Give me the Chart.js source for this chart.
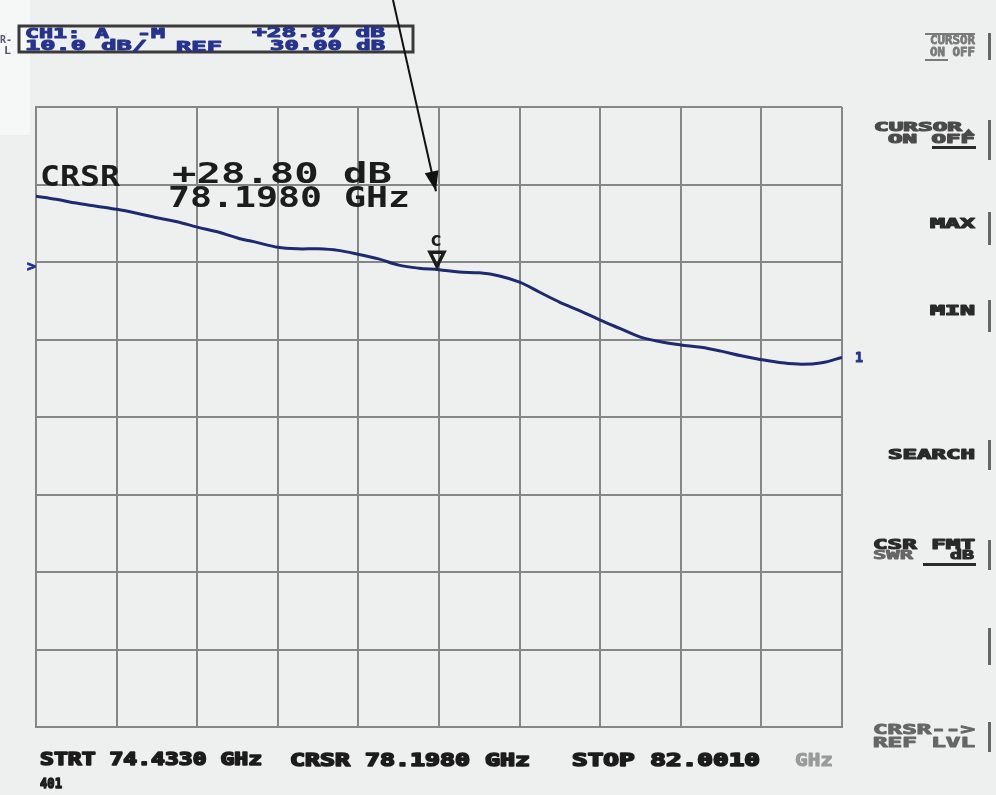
<!DOCTYPE html>
<html>
<head>
<meta charset="utf-8">
<script src="https://cdn.jsdelivr.net/npm/chart.js@4"></script>
<style>
html,body{margin:0;padding:0;background:#eef0ef;}
#c{display:block;}
</style>
</head>
<body>
<canvas id="c" width="996" height="795"></canvas>
<script>
// Frequency points (GHz) along the sweep
const freqGHz = [74.4330,74.6222,74.8114,75.0006,75.1898,75.3790,75.5682,75.7574,75.9466,76.1358,
  76.3250,76.5142,76.7034,76.8926,77.0818,77.2710,77.4602,77.6494,77.8386,78.0278,
  78.2170,78.4062,78.5954,78.7846,78.9738,79.1630,79.3522,79.5414,79.7306,79.9198,
  80.1090,80.2982,80.4874,80.6766,80.8658,81.0550,81.2442,81.4334,81.6226,81.8118,82.0010];
// Measured trace (dB)
const traceDB = [38.5,38.1,37.6,37.2,36.8,36.3,35.7,35.2,34.5,33.9,
  33.1,32.5,31.9,31.7,31.7,31.5,31.0,30.4,29.6,29.2,
  29.0,28.7,28.6,28.2,27.4,26.1,24.8,23.7,22.5,21.4,
  20.3,19.7,19.3,19.0,18.5,17.9,17.4,17.0,16.8,17.0,17.7];
// Cursor
const cursorFreq = [78.1980];
const cursorDB = [28.80];
// Grid divisions
const xGridTicks = [74.4330,75.1898,75.9466,76.7034,77.4602,78.2170,78.9738,79.7306,80.4874,81.2442,82.0010];
const yGridTicks = [-30,-20,-10,0,10,20,30,40,50];
const refLevel = 30;

const MONO = '"DejaVu Sans Mono", "Liberation Mono", monospace';

function drawFit(ctx, text, x, y, w, size, color, weight, stroke){
  ctx.save();
  ctx.font = (weight||'bold') + ' ' + size + 'px ' + MONO;
  ctx.fillStyle = color;
  ctx.strokeStyle = color;
  ctx.textBaseline = 'middle';
  ctx.textAlign = 'left';
  const m = ctx.measureText(text).width;
  ctx.translate(x, y);
  ctx.scale(w / m, 1);
  ctx.fillText(text, 0, 0);
  if (stroke) { ctx.lineWidth = stroke; ctx.lineJoin = 'round'; ctx.strokeText(text, 0, 0); }
  ctx.restore();
}

const decor = {
  id: 'decor',
  beforeDraw(chart){
    const ctx = chart.ctx;
    ctx.save();
    ctx.fillStyle = '#eef0ef';
    ctx.fillRect(0,0,chart.width,chart.height);
    ctx.fillStyle = '#f6f7f7';
    ctx.fillRect(0,0,30,135);
    ctx.restore();
  },
  afterDraw(chart){
    const ctx = chart.ctx;
    const xs = chart.scales.x, ys = chart.scales.y;
    const blue = '#26338f', dark = '#1c1c1c';
    // header box
    ctx.save();
    ctx.strokeStyle = '#3a3a3a'; ctx.lineWidth = 3;
    ctx.strokeRect(19, 26, 394, 26);
    ctx.restore();
    drawFit(ctx, 'CH1: A  -M', 25, 34, 140, 14, blue, 'bold', 1);
    drawFit(ctx, '+28.87 dB', 252, 33, 133, 14, blue, 'bold', 1);
    drawFit(ctx, '10.0 dB/', 25, 46, 122, 14, blue, 'bold', 1);
    drawFit(ctx, 'REF', 176, 47, 46, 14, blue, 'bold', 1);
    drawFit(ctx, '30.00 dB', 270, 46, 115, 14, blue, 'bold', 1);
    drawFit(ctx, 'R-', 0, 40, 12, 11, '#556');
    drawFit(ctx, 'L', 4, 51, 7, 11, '#556');

    // cursor readout
    drawFit(ctx, 'CRSR', 40, 178, 80, 29, dark, 'bold');
    drawFit(ctx, '+28.80 dB', 172, 175, 220, 29, dark, 'bold');
    drawFit(ctx, '78.1980 GHz', 168, 199, 242, 29, dark, 'bold');

    // cursor marker
    const cx = xs.getPixelForValue(cursorFreq[0]);
    const cy = ys.getPixelForValue(cursorDB[0]);
    ctx.save();
    ctx.fillStyle = dark;
    ctx.font = 'bold 20px ' + MONO;
    ctx.textAlign = 'center'; ctx.textBaseline = 'middle';
    ctx.fillText('c', cx - 1, cy - 31);
    ctx.strokeStyle = dark; ctx.lineWidth = 3.5;
    ctx.beginPath();
    ctx.moveTo(cx - 7, cy - 19); ctx.lineTo(cx + 7, cy - 19); ctx.lineTo(cx, cy - 5); ctx.closePath();
    ctx.stroke();
    ctx.restore();

    // arrow
    ctx.save();
    const tipX = cx - 1, tipY = cy - 80;
    const sx = 393, sy = 0;
    ctx.strokeStyle = '#111'; ctx.lineWidth = 2;
    ctx.beginPath(); ctx.moveTo(sx, sy); ctx.lineTo(tipX, tipY); ctx.stroke();
    const ang = Math.atan2(tipY - sy, tipX - sx);
    ctx.fillStyle = '#111';
    ctx.beginPath();
    ctx.moveTo(tipX, tipY);
    ctx.lineTo(tipX - 20*Math.cos(ang) + 7*Math.sin(ang), tipY - 20*Math.sin(ang) - 7*Math.cos(ang));
    ctx.lineTo(tipX - 20*Math.cos(ang) - 7*Math.sin(ang), tipY - 20*Math.sin(ang) + 7*Math.cos(ang));
    ctx.closePath(); ctx.fill();
    ctx.restore();

    // reference marker and trace label
    const ry = ys.getPixelForValue(refLevel);
    drawFit(ctx, '>', 27, ry + 5, 9, 14, blue, 'bold', 1);
    const ly = ys.getPixelForValue(traceDB[traceDB.length-1]);
    drawFit(ctx, '1', 855, ly + 1, 8, 14, blue, 'bold', 1);

    // bottom annotation
    drawFit(ctx, 'STRT 74.4330 GHz', 40, 761, 222, 17, dark, 'bold', 1.6);
    drawFit(ctx, 'CRSR 78.1980 GHz', 290, 762, 240, 17, dark, 'bold', 1.6);
    drawFit(ctx, 'STOP 82.0010', 572, 762, 188, 17, dark, 'bold', 1.6);
    drawFit(ctx, 'GHz', 795, 762, 38, 17, '#9a9a9a', 'bold', 1);
    drawFit(ctx, '401', 40, 784, 22, 14, dark, 'bold', 1.4);

    // softkeys
    const sk = '#2a2a2a', skLight = '#7a7a7a', skMid = '#4a4a4a';
    drawFit(ctx, 'CURSOR', 930, 41, 45, 13, skLight, 'bold', 0.8);
    drawFit(ctx, 'ON OFF', 930, 53, 45, 13, skLight, 'bold', 0.8);
    ctx.save(); ctx.strokeStyle = skLight; ctx.lineWidth = 2;
    ctx.beginPath(); ctx.moveTo(925, 60); ctx.lineTo(948, 60); ctx.stroke();
    ctx.beginPath(); ctx.moveTo(925, 34); ctx.lineTo(975, 34); ctx.stroke(); ctx.restore();

    drawFit(ctx, 'CURSOR', 874, 128, 88, 13, skMid, 'bold', 1.2);
    drawFit(ctx, '▲', 963, 131, 11, 10, skMid, 'bold');
    drawFit(ctx, 'ON OFF', 888, 140, 87, 13, skMid, 'bold', 1.2);
    ctx.save(); ctx.fillStyle = sk; ctx.fillRect(932, 146, 44, 3); ctx.restore();

    drawFit(ctx, 'MAX', 930, 224, 45, 14, sk, 'bold', 1.2);
    drawFit(ctx, 'MIN', 930, 311, 45, 14, sk, 'bold', 1.2);
    drawFit(ctx, 'SEARCH', 888, 455, 87, 14, sk, 'bold', 1.2);
    drawFit(ctx, 'CSR FMT', 873, 545, 102, 14, sk, 'bold', 1.2);
    drawFit(ctx, 'SWR', 873, 556, 40, 12, '#666', 'bold', 0.8);
    drawFit(ctx, 'dB', 950, 556, 24, 12, sk, 'bold', 1);
    ctx.save(); ctx.fillStyle = sk; ctx.fillRect(923, 563, 53, 3); ctx.restore();
    drawFit(ctx, 'CRSR-->', 873, 730, 102, 14, '#666', 'bold', 1);
    drawFit(ctx, 'REF LVL', 873, 743, 102, 14, '#666', 'bold', 1);

    // softkey bars
    ctx.save(); ctx.fillStyle = '#666';
    [[33,60],[120,160],[212,245],[300,332],[440,470],[540,570],[628,665],[722,752]].forEach(b=>{
      ctx.fillRect(988, b[0], 3, b[1]-b[0]);
    });
    ctx.restore();
  }
};

const traceData = freqGHz.map((f,i)=>({x:f, y:traceDB[i]}));

new Chart(document.getElementById('c').getContext('2d'), {
  type: 'line',
  data: {
    datasets: [{
      data: traceData,
      borderColor: '#1e2a70',
      borderWidth: 3,
      pointRadius: 0,
      tension: 0.35,
      fill: false
    }]
  },
  options: {
    responsive: false,
    animation: false,
    devicePixelRatio: 1,
    layout: { padding: { left: 36, right: 154, top: 107, bottom: 68 } },
    plugins: { legend: { display: false }, tooltip: { enabled: false }, title: { display: false } },
    scales: {
      x: {
        type: 'linear',
        min: xGridTicks[0], max: xGridTicks[xGridTicks.length-1],
        afterBuildTicks: (s)=>{ s.ticks = xGridTicks.map(v=>({value:v})); },
        ticks: { display: false },
        grid: { color: '#858787', lineWidth: 2, drawTicks: false },
        border: { color: '#858787', width: 2 }
      },
      y: {
        min: yGridTicks[0], max: yGridTicks[yGridTicks.length-1],
        afterBuildTicks: (s)=>{ s.ticks = yGridTicks.map(v=>({value:v})); },
        ticks: { display: false },
        grid: { color: '#858787', lineWidth: 2, drawTicks: false },
        border: { color: '#858787', width: 2 }
      }
    }
  },
  plugins: [decor]
});
</script>
</body>
</html>
